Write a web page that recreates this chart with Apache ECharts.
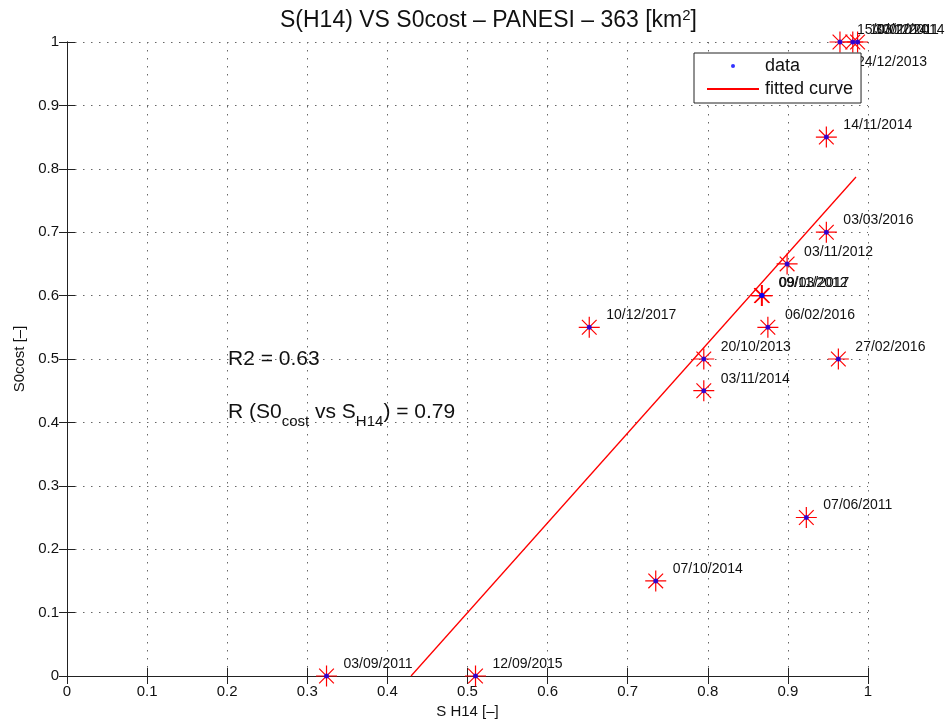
<!DOCTYPE html>
<html>
<head>
<meta charset="utf-8">
<script src="https://cdn.jsdelivr.net/npm/echarts@6/dist/echarts.min.js"></script>
<style>
    html, body { margin: 0; padding: 0; background: #fff; }
    #chart { width: 946px; height: 725px; }
</style>
</head>
<body>
<div id="chart"></div>
<script>
// dates of the events (point labels)
const dates = ['03/09/2011', '12/09/2015', '07/10/2014', '07/06/2011', '10/12/2017',
    '20/10/2013', '03/11/2014', '06/02/2016', '27/02/2016', '09/11/2012', '09/03/2017',
    '03/11/2012', '03/03/2016', '14/11/2014', '24/12/2013', '15/03/2014', '10/01/2011', '30/12/2014']
// S H14 [-]
const sH14 = [0.324, 0.510, 0.735, 0.923, 0.652, 0.795, 0.795, 0.875, 0.963, 0.867, 0.868,
    0.899, 0.948, 0.948, 0.965, 0.965, 0.981, 0.987]
// S0cost [-]
const s0cost = [0, 0, 0.15, 0.25, 0.55, 0.5, 0.45, 0.55, 0.5, 0.6, 0.6,
    0.65, 0.7, 0.85, 0.95, 1, 1, 1]
// fitted curve (clipped at 0)
const fitX = [0.4295, 0.985]
const fitY = [0, 0.787]
const ticks = [0, 0.1, 0.2, 0.3, 0.4, 0.5, 0.6, 0.7, 0.8, 0.9, 1]

const font = 'Liberation Sans, Arial, sans-serif'
const points = sH14.map((x, i) => [x, s0cost[i], dates[i]])
const fitLine = fitX.map((x, i) => [x, fitY[i]])

const fmt = v => String(Math.round(v * 10) / 10)
const baseAxis = {
    min: ticks[0],
    max: ticks[ticks.length - 1],
    interval: 0.1,
    axisLine: { lineStyle: { color: '#222', width: 1 } },
    axisTick: { inside: true, length: 8, lineStyle: { color: '#222' } },
    axisLabel: { color: '#111', fontSize: 15, fontFamily: font, formatter: fmt },
    splitLine: { show: false }
}
const dotted = { show: true, lineStyle: { color: '#666', type: [1.5, 6.5], width: 1 } }

const myChart = echarts.init(document.getElementById('chart'))
myChart.setOption({
    backgroundColor: '#fff',
    animation: false,
    title: {
        text: 'S(H14) VS S0cost – PANESI – 363 [km{sup|2}]',
        left: 275,
        top: 3,
        textStyle: {
            fontSize: 23, fontWeight: 'normal', color: '#111', fontFamily: font,
            rich: {
                sup: { fontSize: 15, verticalAlign: 'top', lineHeight: 26, fontFamily: font, color: '#111' }
            }
        }
    },
    grid: { left: 67, right: 78, top: 42, bottom: 49 },
    legend: {
        data: [
            { name: 'data', icon: 'circle' },
            { name: 'fitted curve', itemStyle: { opacity: 0 } }
        ],
        orient: 'vertical',
        left: 694,
        top: 53,
        padding: [4, 8, 5, 12],
        itemGap: 5,
        itemWidth: 52,
        itemHeight: 4,
        backgroundColor: '#fff',
        borderColor: '#222',
        borderWidth: 1,
        borderRadius: 0,
        textStyle: { fontSize: 18, color: '#111', fontFamily: font, padding: [0, 0, 0, 1] },
        z: 10
    },
    xAxis: [
        {
            ...baseAxis,
            type: 'value',
            position: 'bottom',
            name: 'S H14 [–]',
            nameLocation: 'middle',
            nameGap: 26,
            nameTextStyle: { fontSize: 15, color: '#111', fontFamily: font },
            splitLine: dotted
        },
        {
            ...baseAxis,
            type: 'value',
            position: 'top',
            axisLabel: { show: false }
        }
    ],
    yAxis: [
        {
            ...baseAxis,
            type: 'value',
            position: 'left',
            name: 'S0cost [–]',
            nameLocation: 'middle',
            nameGap: 40,
            nameTextStyle: { fontSize: 15, color: '#111', fontFamily: font },
            splitLine: dotted
        },
        {
            ...baseAxis,
            type: 'value',
            position: 'right',
            axisLabel: { show: false }
        }
    ],
    series: [
        {
            name: 'marker',
            type: 'scatter',
            data: points,
            clip: false,
            symbol: 'path://M0,-10L0,10M-10,0L10,0M-7,-7L7,7M-7,7L7,-7',
            symbolSize: 21,
            itemStyle: { color: 'none', borderColor: '#ff0000', borderWidth: 1.2, opacity: 1 },
            label: {
                show: true,
                position: 'inside',
                align: 'left',
                verticalAlign: 'middle',
                offset: [17, -12],
                formatter: p => p.data[2],
                fontSize: 14,
                color: '#111',
                fontFamily: font
            },
            z: 2
        },
        {
            name: 'data',
            type: 'scatter',
            data: points,
            clip: false,
            symbol: 'circle',
            symbolSize: 5,
            itemStyle: { color: '#0000ff' },
            z: 3
        },
        {
            name: 'fitted curve',
            type: 'line',
            data: fitLine,
            symbol: 'none',
            clip: false,
            lineStyle: { color: '#ff0000', width: 1.3 },
            itemStyle: { color: '#ff0000' },
            z: 4
        }
    ]
})

// text annotations placed in data coordinates
const p1 = myChart.convertToPixel({ gridIndex: 0 }, [0.201, 0.5])
const p2 = myChart.convertToPixel({ gridIndex: 0 }, [0.201, 0.416])
myChart.setOption({
    graphic: [
        {
            type: 'text',
            x: p1[0],
            y: p1[1],
            style: {
                text: 'R2 = 0.63',
                font: '21px ' + font,
                fill: '#111',
                verticalAlign: 'middle'
            }
        },
        {
            type: 'text',
            x: p2[0],
            y: p2[1],
            style: {
                text: 'R (S0{sub|cost} vs S{sub|H14}) = 0.79',
                font: '21px ' + font,
                fill: '#111',
                verticalAlign: 'middle',
                lineHeight: 34,
                rich: {
                    sub: { fontSize: 15, fontFamily: font, verticalAlign: 'bottom', lineHeight: 34, fill: '#111' }
                }
            }
        }
    ]
})
</script>
</body>
</html>
